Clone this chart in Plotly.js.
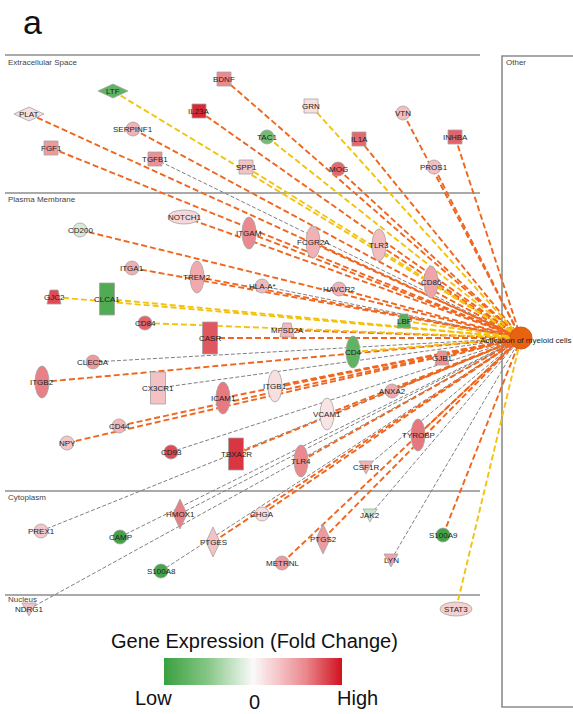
<!DOCTYPE html>
<html><head><meta charset="utf-8">
<script src="https://cdn.plot.ly/plotly-3.0.1.min.js"></script>
<style>html,body{margin:0;padding:0;background:#fff}#chart{width:573px;height:714px}</style>
</head><body><div id="chart"></div>
<script>
// ---- network data (layout coordinates of each gene, its shape class, estimated expression, edge type) ----
const nodeNames = ["LTF","BDNF","PLAT","IL23A","SERPINF1","TAC1","FGF1","TGFB1","SPP1","GRN",
  "VTN","IL1A","INHBA","MOG","PROS1","NOTCH1","CD200","ITGAM","ITGA1","TREM2",
  "HLA-A*","GJC2","CLCA1","CD84","CASR","MFSD2A","FCGR2A","TLR3","CD86","HAVCR2",
  "LBP","CD4","GJB1","CLEC5A","ITGB2","CX3CR1","ICAM1","ITGB1","ANXA2","VCAM1",
  "CD44","NPY","CD93","TBXA2R","TLR4","CSF1R","TYROBP","HMOX1","CHGA","PREX1",
  "CAMP","PTGES","S100A8","METRNL","PTGS2","JAK2","LYN","S100A9","NDRG1","STAT3"];
const nodeX = [113,224,29,199,133,267,51,155,246,311,
  403,359,455,338,434,184,80,249,132,197,
  262,54,107,145,210,287,313,379,431,339,
  404,353,442,93,42,158,223,275,392,327,
  119,67,171,236,301,366,418,180,262,41,
  120,213,161,282,323,370,391,443,29,456];
const nodeY = [91,79,114,111,129,137,148,159,167,106,
  113,139,137,169,167,217,230,233,268,277,
  286,297,299,323,338,330,242,245,282,289,
  321,352,358,362,382,388,398,386,391,414,
  426,443,452,454,461,467,435,514,514,531,
  537,542,571,563,539,515,560,535,609,609];
const nodeKind = ["wdia","square","wdia","square","circle","circle","square","square","square","square",
  "circle","square","square","circle","circle","hell","circle","vell","circle","vell",
  "circle","trap","rect","circle","rect","trap","vell","vell","vell","circle",
  "trap","vell","trap","circle","vell","rect","vell","vell","circle","vell",
  "circle","circle","circle","rect","vell","tri","vell","tdia","circle","circle",
  "circle","tdia","circle","circle","tdia","tri","tri","circle","tri","hell"];
const nodeExpr = [-0.75,0.58,0.15,0.92,0.38,-0.65,0.5,0.55,0.3,0.15,
  0.32,0.7,0.72,0.7,0.32,0.18,-0.15,0.58,0.4,0.42,
  0.35,0.8,-0.85,0.72,0.76,0.35,0.38,0.33,0.45,0.38,
  -0.8,-0.75,0.55,0.5,0.62,0.3,0.64,0.15,0.43,0.12,
  0.36,0.28,0.8,0.87,0.58,0.38,0.65,0.62,0.15,0.28,
  -0.95,0.3,-0.92,0.5,0.5,-0.2,0.45,-0.95,0.3,0.22];
const edgeType = ["Y","O","O","O","O","Y","O","G","Y","Y",
  "O","O","O","O","O","O","O","O","O","O",
  "G","Y","Y","Y","O","O","O","O","O","O",
  "Y","Y","O","G","O","G","O","O","O","O",
  "O","O","G","O","O","G","O","G","O","G",
  "G","O","G","O","O","G","G","O","G","Y"];
const hubName = "Activation of myeloid cells";
const hubX = 521, hubY = 338;

const compartments = ["Extracellular Space","Plasma Membrane","Cytoplasm","Nucleus"];
const compartmentY = [55,193,491,595];

const legendTitle = "Gene Expression (Fold Change)";
const legendTicks = ["Low","0","High"];
const legendStops = [[-1,"#3a9f3f"],[-0.5,"#88c788"],[0,"#fafafa"],[0.3,"#f4c2c4"],[0.6,"#e9868b"],[1,"#d2101e"]];

// ---- helpers ----
function hex2rgb(h){return [parseInt(h.slice(1,3),16),parseInt(h.slice(3,5),16),parseInt(h.slice(5,7),16)];}
function colorFor(v){
  for(let i=0;i<legendStops.length-1;i++){
    const [a,ca]=legendStops[i],[b,cb]=legendStops[i+1];
    if(v<=b){const t=(v-a)/(b-a);const A=hex2rgb(ca),B=hex2rgb(cb);
      return "rgb("+A.map((c,k)=>Math.round(c+(B[k]-c)*t)).join(",")+")";}
  }
  return legendStops[legendStops.length-1][1];
}
const edgeStyle = {
  O:{color:"#f0661e",width:1.9,dash:"6px,3px"},
  Y:{color:"#f3c20f",width:1.9,dash:"6px,3px"},
  G:{color:"#808080",width:1.0,dash:"4px,2px"}
};
const traces = [];
["G","O","Y"].forEach(t=>{
  const xs=[],ys=[];
  nodeNames.forEach((n,i)=>{ if(edgeType[i]===t){xs.push(nodeX[i],hubX,null);ys.push(nodeY[i],hubY,null);} });
  traces.push({type:"scatter",mode:"lines",x:xs,y:ys,hoverinfo:"skip",showlegend:false,
    line:{color:edgeStyle[t].color,width:edgeStyle[t].width,dash:edgeStyle[t].dash}});
});

// legend gradient
const N = 120, barX0 = 164, barX1 = 342, barY0 = 658, barY1 = 685;
const zrow = [];
for(let i=0;i<N;i++) zrow.push(-1 + 2*(i+0.5)/N);
traces.push({type:"heatmap",z:[zrow],x0:barX0+(barX1-barX0)/N/2,dx:(barX1-barX0)/N,
  y0:(barY0+barY1)/2,dy:barY1-barY0,zmin:-1,zmax:1,showscale:false,hoverinfo:"skip",
  colorscale:legendStops.map(s=>[(s[0]+1)/2,s[1]])});

const shapes = [];
const border = {color:"#a3a3a3",width:0.8};
// compartment separators
compartmentY.forEach(y=>shapes.push({type:"line",xref:"x",yref:"y",x0:5,x1:480,y0:y,y1:y,line:{color:"#8c8c8c",width:1.6},layer:"below"}));
shapes.push({type:"rect",xref:"x",yref:"y",x0:502,x1:580,y0:56,y1:707,line:{color:"#8c8c8c",width:1.6},layer:"below"});

function P(pts){return "M"+pts.map(p=>p[0]+","+p[1]).join(" L")+" Z";}
nodeNames.forEach((n,i)=>{
  const cx=nodeX[i],cy=nodeY[i],k=nodeKind[i],fc=colorFor(nodeExpr[i]);
  const base={xref:"x",yref:"y",fillcolor:fc,line:border,layer:"above"};
  if(k==="circle") shapes.push(Object.assign({type:"circle",x0:cx-7,x1:cx+7,y0:cy-7,y1:cy+7},base));
  else if(k==="vell") shapes.push(Object.assign({type:"circle",x0:cx-7,x1:cx+7,y0:cy-16,y1:cy+16},base));
  else if(k==="hell") shapes.push(Object.assign({type:"circle",x0:cx-16,x1:cx+16,y0:cy-7,y1:cy+7},base));
  else if(k==="square") shapes.push(Object.assign({type:"rect",x0:cx-7,x1:cx+7,y0:cy-7,y1:cy+7},base));
  else if(k==="rect") shapes.push(Object.assign({type:"rect",x0:cx-7.5,x1:cx+7.5,y0:cy-16,y1:cy+16},base));
  else if(k==="wdia") shapes.push(Object.assign({type:"path",path:P([[cx-15,cy],[cx,cy-7],[cx+15,cy],[cx,cy+7]])},base));
  else if(k==="tdia") shapes.push(Object.assign({type:"path",path:P([[cx-7,cy],[cx,cy-15],[cx+7,cy],[cx,cy+15]])},base));
  else if(k==="trap") shapes.push(Object.assign({type:"path",path:P([[cx-4,cy-7],[cx+4,cy-7],[cx+7,cy+7],[cx-7,cy+7]])},base));
  else if(k==="tri") shapes.push(Object.assign({type:"path",path:P([[cx-7,cy-6],[cx+7,cy-6],[cx,cy+7]])},base));
});
// hub
shapes.push({type:"circle",xref:"x",yref:"y",x0:hubX-11,x1:hubX+11,y0:hubY-11,y1:hubY+11,fillcolor:"#e8620f",line:{color:"#d45a10",width:1},layer:"above"});

const annotations = [];
const lblFont = {family:"Liberation Sans, Arial, sans-serif",size:8,color:"#1e1e1e"};
nodeNames.forEach((n,i)=>annotations.push({x:nodeX[i],y:nodeY[i],xref:"x",yref:"y",text:n,showarrow:false,xanchor:"center",yanchor:"middle",font:lblFont}));
annotations.push({x:526,y:340,xref:"x",yref:"y",text:hubName,showarrow:false,xanchor:"center",yanchor:"middle",font:lblFont});
const labelOffset=[7,6,6,4];
compartments.forEach((c,i)=>annotations.push({x:6,y:compartmentY[i]+labelOffset[i],xref:"x",yref:"y",text:c,showarrow:false,xanchor:"left",yanchor:"middle",font:{family:"Liberation Sans, Arial, sans-serif",size:8,color:"#444"}}));
annotations.push({x:504,y:62,xref:"x",yref:"y",text:"Other",showarrow:false,xanchor:"left",yanchor:"middle",font:{family:"Liberation Sans, Arial, sans-serif",size:8,color:"#444"}});
annotations.push({x:32,y:22,xref:"x",yref:"y",text:"a",showarrow:false,xanchor:"center",yanchor:"middle",font:{family:"Liberation Sans, Arial, sans-serif",size:34,color:"#111"}});
annotations.push({x:254,y:641,xref:"x",yref:"y",text:legendTitle,showarrow:false,xanchor:"center",yanchor:"middle",font:{family:"Liberation Sans, Arial, sans-serif",size:20,color:"#111"}});
const tickX=[153,254,357], tickY=[698,702,698];
legendTicks.forEach((t,i)=>annotations.push({x:tickX[i],y:tickY[i],xref:"x",yref:"y",text:t,showarrow:false,xanchor:"center",yanchor:"middle",font:{family:"Liberation Sans, Arial, sans-serif",size:20,color:"#111"}}));

const layout = {
  width:573,height:714,margin:{l:0,r:0,t:0,b:0},paper_bgcolor:"#fff",plot_bgcolor:"#fff",
  xaxis:{range:[0,573],visible:false,fixedrange:true},
  yaxis:{range:[714,0],visible:false,fixedrange:true},
  showlegend:false,shapes:shapes,annotations:annotations
};
Plotly.newPlot("chart",traces,layout,{staticPlot:true,displayModeBar:false});
</script></body></html>
